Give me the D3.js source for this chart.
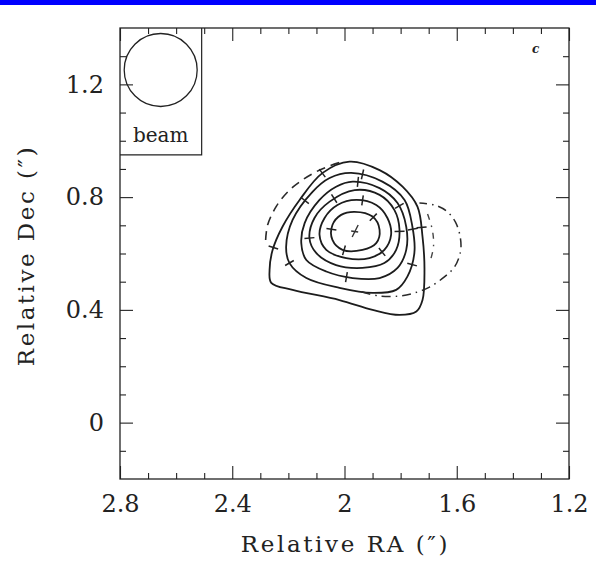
<!DOCTYPE html>
<html>
<head>
<meta charset="utf-8">
<script src="https://cdn.jsdelivr.net/npm/d3@7"></script>
<style>
  body { margin: 0; background: #fff; }
  svg { display: block; }
  .lbl { font-family: "DejaVu Serif", serif; fill: #222; }
</style>
</head>
<body>
<svg width="596" height="567"></svg>
<script>
// ticks
const raMajor = [2.8, 2.4, 2, 1.6, 1.2];
const raMinor = [2.7, 2.6, 2.5, 2.3, 2.2, 2.1, 1.9, 1.8, 1.7, 1.5, 1.4, 1.3];
const decMajor = [0, 0.4, 0.8, 1.2];
const decMinor = [-0.1, 0.1, 0.2, 0.3, 0.5, 0.6, 0.7, 0.9, 1.0, 1.1, 1.3];

// solid contours, [RA, Dec], outermost first
const contour1 = [[1.982,0.926],[1.875,0.896],[1.793,0.837],[1.740,0.766],[1.722,0.660],[1.715,0.542],[1.722,0.435],[1.744,0.394],[1.804,0.382],[1.900,0.400],[2.018,0.435],[2.185,0.471],[2.261,0.496],[2.267,0.542],[2.256,0.613],[2.221,0.695],[2.160,0.790],[2.078,0.886]];
const contour2 = [[1.976,0.886],[1.865,0.855],[1.786,0.790],[1.758,0.695],[1.751,0.602],[1.776,0.518],[1.816,0.471],[1.900,0.460],[2.018,0.478],[2.136,0.513],[2.196,0.566],[2.208,0.624],[2.185,0.719],[2.114,0.819],[2.053,0.868]];
const contour3 = [[1.971,0.855],[1.875,0.832],[1.811,0.779],[1.780,0.695],[1.780,0.613],[1.811,0.549],[1.875,0.513],[1.971,0.513],[2.065,0.536],[2.136,0.577],[2.154,0.637],[2.142,0.708],[2.089,0.790],[2.030,0.837]];
const contour4 = [[1.964,0.825],[1.875,0.808],[1.822,0.754],[1.804,0.684],[1.816,0.613],[1.858,0.566],[1.936,0.549],[2.030,0.559],[2.101,0.602],[2.125,0.655],[2.107,0.726],[2.053,0.784]];
const contour5 = [[1.958,0.790],[1.887,0.772],[1.847,0.726],[1.834,0.666],[1.858,0.613],[1.911,0.584],[1.994,0.584],[2.065,0.613],[2.089,0.666],[2.071,0.726],[2.025,0.772]];
const contour6 = [[1.964,0.748],[1.900,0.731],[1.875,0.684],[1.887,0.637],[1.936,0.613],[2.007,0.613],[2.043,0.648],[2.043,0.701],[2.012,0.737]];

// broken contours (only the visible parts)
const dashedArc = [[2.281,0.648],[2.274,0.701],[2.242,0.769],[2.196,0.825],[2.150,0.861],[2.103,0.889],[2.053,0.911],[2.000,0.928]];
const dashDotArc = [[1.939,0.464],[1.875,0.449],[1.804,0.449],[1.751,0.460],[1.697,0.481],[1.644,0.517],[1.608,0.552],[1.587,0.605],[1.587,0.655],[1.605,0.712],[1.637,0.751],[1.679,0.772],[1.733,0.779]];
const dashDotArc2 = [[1.704,0.740],[1.687,0.684],[1.683,0.623],[1.697,0.566]];

// little marks across the contours: [contour index, RA, Dec]
const contourTicks = [[0,2.082,0.886],[0,1.726,0.691],[0,2.260,0.624],
  [1,1.939,0.861],[1,2.142,0.790],[1,2.196,0.566],[1,1.762,0.684],[1,1.768,0.563],
  [2,1.954,0.855],[2,1.804,0.769],[2,1.993,0.520],
  [3,2.021,0.772],[3,2.121,0.655],[3,1.804,0.680],
  [4,1.939,0.772],[4,1.872,0.613],
  [5,1.886,0.740],[5,2.032,0.684],[5,2.000,0.620]];
const peak = [1.962, 0.680];

// beam
const beam = {ra: 2.655, dec: 1.251, radius: 0.13};
const beamBox = {ra0: 2.8, ra1: 2.509, dec0: 1.4, dec1: 0.950};

const margin = {left: 120, top: 28};
const W = 449, H = 451;

const svg = d3.select("svg");
svg.append("rect").attr("x", 0).attr("y", 0).attr("width", 596).attr("height", 5).attr("fill", "#0000ff");

const g = svg.append("g").attr("transform", `translate(${margin.left},${margin.top})`);
const x = d3.scaleLinear().domain([2.8, 1.2]).range([0, W]);
const y = d3.scaleLinear().domain([-0.2, 1.4]).range([H, 0]);

const ink = "#222";

// axes, ticks pointing inward
const fmt = d => String(d);
const axes = [
  [d3.axisBottom(x), `translate(0,${H})`, raMajor, raMinor, true],
  [d3.axisTop(x), "translate(0,0)", raMajor, raMinor, false],
  [d3.axisLeft(y), "translate(0,0)", decMajor, decMinor, true],
  [d3.axisRight(y), `translate(${W},0)`, decMajor, decMinor, false]
];
axes.forEach(([ax, tr, major, minor, labels]) => {
  g.append("g").attr("transform", tr)
    .call(ax.tickValues(minor).tickSize(-6).tickFormat(""))
    .call(s => s.select(".domain").remove());
  const a = g.append("g").attr("transform", tr).attr("class", "lbl")
    .call(ax.tickValues(major).tickSize(-13).tickPadding(labels ? 16 : 0).tickFormat(labels ? fmt : ""))
    .call(s => s.select(".domain").remove());
  a.selectAll("text").attr("font-size", 24).attr("font-family", "DejaVu Serif").attr("fill", ink);
});
g.selectAll(".tick line").attr("stroke", ink).attr("stroke-width", 1.1);

g.append("rect").attr("width", W).attr("height", H)
  .attr("fill", "none").attr("stroke", ink).attr("stroke-width", 1.3);

// beam box
g.append("path")
  .attr("d", `M${x(beamBox.ra1)},${y(beamBox.dec0)}V${y(beamBox.dec1)}H${x(beamBox.ra0)}`)
  .attr("fill", "none").attr("stroke", ink).attr("stroke-width", 1.2);
g.append("circle")
  .attr("cx", x(beam.ra)).attr("cy", y(beam.dec))
  .attr("r", Math.abs(x(beam.ra - beam.radius) - x(beam.ra)))
  .attr("fill", "none").attr("stroke", ink).attr("stroke-width", 1.3);
g.append("text").attr("class", "lbl")
  .attr("x", x(beam.ra)).attr("y", y(beamBox.dec1) - 13)
  .attr("text-anchor", "middle").attr("font-size", 20)
  .text("beam");

// contours
const closed = d3.line().x(d => x(d[0])).y(d => y(d[1])).curve(d3.curveCatmullRomClosed.alpha(0.5));
const open = d3.line().x(d => x(d[0])).y(d => y(d[1])).curve(d3.curveCatmullRom.alpha(0.5));
const contours = [contour1, contour2, contour3, contour4, contour5, contour6];

const paths = contours.map(c => g.append("path")
  .attr("d", closed(c))
  .attr("fill", "none").attr("stroke", "#1c1c1c").attr("stroke-width", 1.8)
  .attr("stroke-linejoin", "round"));

g.append("path").attr("d", open(dashedArc))
  .attr("fill", "none").attr("stroke", "#2a2a2a").attr("stroke-width", 1.6)
  .attr("stroke-dasharray", "9,6");
g.append("path").attr("d", open(dashDotArc))
  .attr("fill", "none").attr("stroke", "#2a2a2a").attr("stroke-width", 1.5)
  .attr("stroke-dasharray", "9,5,1.5,5");
g.append("path").attr("d", open(dashDotArc2))
  .attr("fill", "none").attr("stroke", "#444").attr("stroke-width", 1.4)
  .attr("stroke-dasharray", "6,6,1.5,6");

// marks across the contours, perpendicular at the nearest point
contourTicks.forEach(([k, ra, dec]) => {
  const node = paths[k].node();
  const len = node.getTotalLength();
  const px = x(ra), py = y(dec);
  let best = 0, bestD = Infinity;
  for (let i = 0; i <= 300; i++) {
    const p = node.getPointAtLength(len * i / 300);
    const dd = (p.x - px) ** 2 + (p.y - py) ** 2;
    if (dd < bestD) { bestD = dd; best = len * i / 300; }
  }
  const p0 = node.getPointAtLength(Math.max(0, best - 2));
  const p1 = node.getPointAtLength(Math.min(len, best + 2));
  const c = node.getPointAtLength(best);
  let nx = -(p1.y - p0.y), ny = p1.x - p0.x;
  const n = Math.hypot(nx, ny) || 1;
  nx /= n; ny /= n;
  g.append("line")
    .attr("x1", c.x - nx * 5).attr("y1", c.y - ny * 5)
    .attr("x2", c.x + nx * 5).attr("y2", c.y + ny * 5)
    .attr("stroke", "#222").attr("stroke-width", 1.5);
});

// peak mark
const pk = [x(peak[0]), y(peak[1])];
g.append("path")
  .attr("d", `M${pk[0] - 3},${pk[1] + 6}L${pk[0] + 3},${pk[1] - 6}M${pk[0] - 4},${pk[1]}L${pk[0] + 3},${pk[1] + 1}`)
  .attr("stroke", "#333").attr("stroke-width", 1.4).attr("fill", "none");

// panel letter
g.append("text").attr("class", "lbl")
  .attr("x", x(1.3) - 9).attr("y", y(1.3) - 3)
  .attr("font-size", 12).attr("font-weight", "bold").attr("font-style", "italic")
  .text("c");

// axis titles
svg.append("text").attr("class", "lbl")
  .attr("x", margin.left + W / 2 + 1).attr("y", 552)
  .attr("text-anchor", "middle").attr("font-size", 23).attr("letter-spacing", 2.6)
  .text("Relative RA (″)");
svg.append("text").attr("class", "lbl")
  .attr("transform", `translate(34,${margin.top + H / 2 + 2}) rotate(-90)`)
  .attr("text-anchor", "middle").attr("font-size", 23).attr("letter-spacing", 2.5)
  .text("Relative Dec (″)");
</script>
</body>
</html>
